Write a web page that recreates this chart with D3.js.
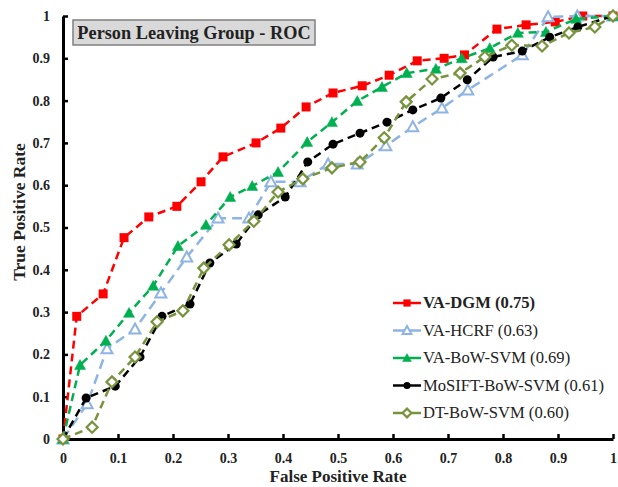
<!DOCTYPE html>
<html>
<head>
<meta charset="utf-8">
<script src="https://cdn.jsdelivr.net/npm/d3@7"></script>
<style>
  html, body { margin: 0; padding: 0; background: #fff; }
  svg { display: block; }
  svg text { font-family: "Times New Roman", "Liberation Serif", Times, "DejaVu Serif", serif; }
</style>
</head>
<body>
<svg id="chart" width="618" height="487"></svg>
<script>
// ---- data ----
const chartTitle = "Person Leaving Group - ROC";
const xTitle = "False Positive Rate";
const yTitle = "True Positive Rate";
const tickValues = [0, 0.1, 0.2, 0.3, 0.4, 0.5, 0.6, 0.7, 0.8, 0.9, 1];
const tickLabels = ["0", "0.1", "0.2", "0.3", "0.4", "0.5", "0.6", "0.7", "0.8", "0.9", "1"];

const seriesNames = ["VA-DGM (0.75)", "VA-HCRF (0.63)", "VA-BoW-SVM (0.69)", "MoSIFT-BoW-SVM (0.61)", "DT-BoW-SVM (0.60)"];
const seriesColors = ["#ff0000", "#8eb4e3", "#00b050", "#000000", "#77933c"];
const seriesMarkers = ["square", "triangleOpen", "triangle", "circle", "diamondOpen"];

const vaDgmFpr = [0, 0.025, 0.073, 0.111, 0.156, 0.207, 0.251, 0.291, 0.351, 0.396, 0.442, 0.491, 0.544, 0.593, 0.644, 0.693, 0.73, 0.789, 0.842, 0.895, 0.945, 1];
const vaDgmTpr = [0, 0.29, 0.343, 0.476, 0.525, 0.55, 0.608, 0.667, 0.70, 0.735, 0.785, 0.818, 0.835, 0.86, 0.894, 0.90, 0.908, 0.969, 0.979, 0.986, 1.0, 1];

const vaHcrfFpr = [0, 0.044, 0.08, 0.131, 0.178, 0.225, 0.282, 0.338, 0.378, 0.431, 0.482, 0.535, 0.587, 0.636, 0.689, 0.736, 0.835, 0.882, 0.935, 1];
const vaHcrfTpr = [0, 0.083, 0.213, 0.26, 0.345, 0.43, 0.522, 0.522, 0.608, 0.608, 0.65, 0.65, 0.693, 0.738, 0.782, 0.825, 0.908, 0.998, 1.0, 1];

const vaBowFpr = [0, 0.031, 0.078, 0.12, 0.164, 0.209, 0.26, 0.304, 0.344, 0.391, 0.444, 0.489, 0.535, 0.58, 0.625, 0.678, 0.725, 0.776, 0.827, 0.878, 0.933, 1];
const vaBowTpr = [0, 0.175, 0.232, 0.298, 0.362, 0.456, 0.506, 0.572, 0.598, 0.631, 0.702, 0.749, 0.799, 0.832, 0.865, 0.875, 0.90, 0.924, 0.96, 0.962, 0.993, 1];

const mosiftFpr = [0, 0.042, 0.095, 0.14, 0.18, 0.231, 0.267, 0.315, 0.355, 0.404, 0.445, 0.491, 0.54, 0.589, 0.636, 0.687, 0.735, 0.782, 0.835, 0.885, 0.936, 1];
const mosiftTpr = [0, 0.097, 0.125, 0.194, 0.29, 0.319, 0.416, 0.461, 0.53, 0.572, 0.655, 0.697, 0.723, 0.749, 0.778, 0.806, 0.849, 0.903, 0.917, 0.95, 0.974, 1];

const dtBowFpr = [0, 0.053, 0.089, 0.131, 0.171, 0.218, 0.256, 0.302, 0.347, 0.391, 0.436, 0.489, 0.54, 0.584, 0.624, 0.671, 0.722, 0.767, 0.816, 0.871, 0.92, 0.967, 1];
const dtBowTpr = [0, 0.028, 0.135, 0.194, 0.277, 0.303, 0.404, 0.459, 0.515, 0.584, 0.615, 0.641, 0.655, 0.712, 0.797, 0.851, 0.865, 0.903, 0.931, 0.929, 0.96, 0.974, 1];

const seriesX = [vaDgmFpr, vaHcrfFpr, vaBowFpr, mosiftFpr, dtBowFpr];
const seriesY = [vaDgmTpr, vaHcrfTpr, vaBowTpr, mosiftTpr, dtBowTpr];

// ---- layout ----
(function () {
const FONT = '"Times New Roman", "Liberation Serif", Times, "DejaVu Serif", serif';
const svg = d3.select("#chart");
const pLeft = 63, pRight = 613, pTop = 16, pBottom = 439;
const x = d3.scaleLinear().domain([0, 1]).range([pLeft, pRight]);
const y = d3.scaleLinear().domain([0, 1]).range([pBottom, pTop]);

// axes
const xAxis = d3.axisBottom(x).tickValues(tickValues).tickFormat((d, i) => tickLabels[i]).tickSizeInner(-5).tickSizeOuter(0).tickPadding(14);
const yAxis = d3.axisLeft(y).tickValues(tickValues).tickFormat((d, i) => tickLabels[i]).tickSizeInner(-5).tickSizeOuter(0).tickPadding(13);

const gx = svg.append("g").attr("transform", `translate(0,${pBottom})`).call(xAxis);
const gy = svg.append("g").attr("transform", `translate(${pLeft},0)`).call(yAxis);
[gx, gy].forEach(g => {
  g.attr("font-family", FONT);
  g.select(".domain").attr("stroke", "#000").attr("stroke-width", 3);
  g.selectAll(".tick line").attr("stroke", "#000").attr("stroke-width", 2.5);
  g.selectAll(".tick text").attr("fill", "#222").attr("font-weight", "bold")
    .attr("font-size", 14).attr("font-family", FONT);
});

// axis titles
svg.append("text").attr("x", (pLeft + pRight) / 2).attr("y", 482).attr("text-anchor", "middle")
  .attr("font-family", FONT).attr("font-weight", "bold").attr("font-size", 17).attr("fill", "#222").text(xTitle);
svg.append("text").attr("transform", `translate(25,212) rotate(-90)`).attr("text-anchor", "middle")
  .attr("font-family", FONT).attr("font-weight", "bold").attr("font-size", 17.5).attr("fill", "#222").text(yTitle);

// marker drawer
function drawMarker(g, type, color, cx, cy, scale) {
  const s = scale || 1;
  if (type === "square") {
    g.append("rect").attr("x", cx - 4.5 * s).attr("y", cy - 4.5 * s).attr("width", 9 * s).attr("height", 9 * s).attr("fill", color);
  } else if (type === "triangle" || type === "triangleOpen") {
    const r = 5.5 * s;
    const pts = [[cx, cy - r], [cx + r, cy + r * 0.8], [cx - r, cy + r * 0.8]];
    g.append("polygon").attr("points", pts.map(p => p.join(",")).join(" "))
      .attr("fill", type === "triangle" ? color : "#fff")
      .attr("stroke", color).attr("stroke-width", type === "triangle" ? 0.5 : 2);
  } else if (type === "circle") {
    g.append("circle").attr("cx", cx).attr("cy", cy).attr("r", 4.5 * s).attr("fill", color);
  } else if (type === "diamondOpen") {
    const r = 5.5 * s;
    const pts = [[cx, cy - r], [cx + r, cy], [cx, cy + r], [cx - r, cy]];
    g.append("polygon").attr("points", pts.map(p => p.join(",")).join(" "))
      .attr("fill", "#fff").attr("stroke", color).attr("stroke-width", 2.2);
  }
}

// series lines and markers
const line = d3.line().x(d => x(d[0])).y(d => y(d[1]));
const dashes = ["8,5", "10,6", "8,5", "8,5", "8,5"];
for (let k = 0; k < seriesNames.length; k++) {
  const pts = seriesX[k].map((v, i) => [v, seriesY[k][i]]);
  const g = svg.append("g");
  g.append("path").datum(pts).attr("d", line).attr("fill", "none")
    .attr("stroke", seriesColors[k]).attr("stroke-width", 2.5).attr("stroke-dasharray", dashes[k]);
  pts.forEach(p => drawMarker(g, seriesMarkers[k], seriesColors[k], x(p[0]), y(p[1]), 1));
}

// legend
const legendY0 = 303, legendStep = 27.5;
seriesNames.forEach((name, k) => {
  const g = svg.append("g");
  const ly = legendY0 + k * legendStep;
  g.append("line").attr("x1", 393).attr("x2", 421).attr("y1", ly).attr("y2", ly)
    .attr("stroke", seriesColors[k]).attr("stroke-width", 2.5);
  drawMarker(g, seriesMarkers[k], seriesColors[k], 407, ly, 0.8);
  g.append("text").attr("x", 423).attr("y", ly + 5).attr("font-size", 16.6)
    .attr("font-family", FONT)
    .attr("font-weight", k === 0 ? "bold" : "normal").attr("fill", "#222").text(name);
});

// title box
const tg = svg.append("g");
tg.append("rect").attr("x", 73).attr("y", 20).attr("width", 242).attr("height", 25)
  .attr("fill", "#d9d9d9").attr("stroke", "#7f7f7f").attr("stroke-width", 1.5);
tg.append("text").attr("x", 194).attr("y", 39).attr("text-anchor", "middle")
  .attr("font-family", FONT)
  .attr("font-weight", "bold").attr("font-size", 18.3).attr("fill", "#222").text(chartTitle);
})();
</script>
</body>
</html>
